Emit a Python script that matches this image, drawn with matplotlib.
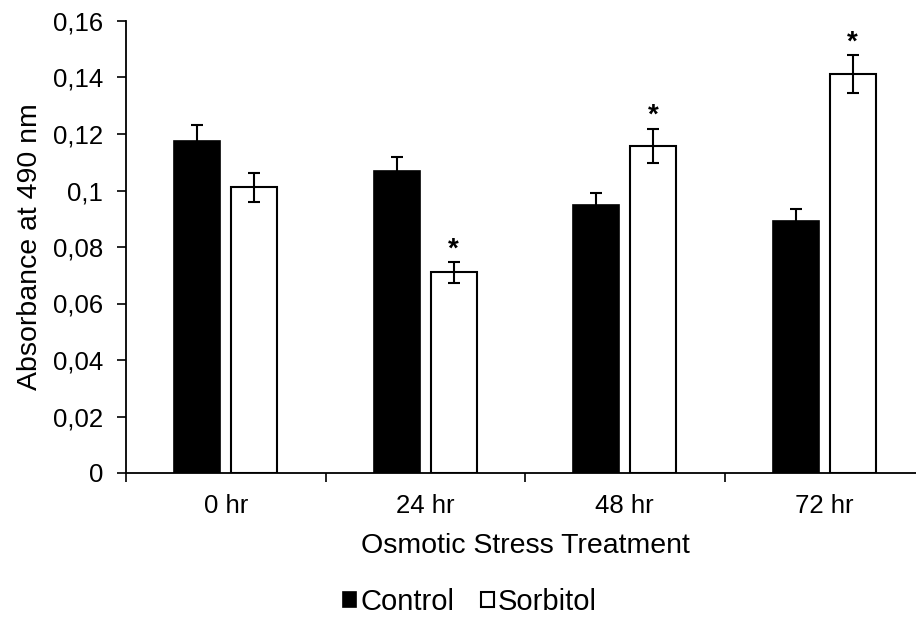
import matplotlib
matplotlib.use("Agg")
import matplotlib.pyplot as plt
import numpy as np

categories = ["0 hr", "24 hr", "48 hr", "72 hr"]
control = [0.1176, 0.1068, 0.0947, 0.0891]
control_err = [0.0057, 0.0051, 0.0044, 0.0042]
sorbitol = [0.1011, 0.0710, 0.1157, 0.1412]
sorbitol_err = [0.0051, 0.0036, 0.0061, 0.0066]
significant = [False, True, True, True]
yticks = [0, 0.02, 0.04, 0.06, 0.08, 0.10, 0.12, 0.14, 0.16]
ytick_labels = ["0", "0,02", "0,04", "0,06", "0,08", "0,1", "0,12", "0,14", "0,16"]

plt.rcParams['font.family'] = ['Liberation Sans', 'DejaVu Sans']

fig = plt.figure(figsize=(9.16, 6.26), dpi=100)
ax = fig.add_axes([126/916, 1 - 473/626, (924 - 126)/916, (473 - 21)/626])

x = np.arange(len(categories))
w = 0.23
off = 0.143
ekw = dict(elinewidth=1.5, capthick=1.5)
ax.bar(x - off, control, w, yerr=control_err, color="black", edgecolor="black",
       linewidth=1.2, capsize=4.5, error_kw=ekw, label="Control", zorder=2)
ax.bar(x + off, sorbitol, w, yerr=sorbitol_err, color="white", edgecolor="black",
       linewidth=1.5, capsize=4.5, error_kw=ekw, label="Sorbitol", zorder=2)

for i, sig in enumerate(significant):
    if sig:
        ax.annotate("*", xy=(x[i] + off, sorbitol[i] + sorbitol_err[i]),
                    xytext=(0, 0), textcoords="offset points",
                    ha="center", va="bottom", fontsize=20, fontweight="bold")

ax.set_xlim(-0.5, len(categories) - 0.5)
ax.set_ylim(0, 0.16)
ax.set_yticks(yticks)
ax.set_yticklabels(ytick_labels)
ax.set_xticks(x)
ax.set_xticklabels(categories)
ax.set_xticks(np.arange(-0.5, len(categories), 1.0), minor=True)
ax.tick_params(axis="x", which="major", length=0, pad=15, labelsize=18.5)
ax.tick_params(axis="x", which="minor", length=6.5, width=1.2, direction="out")
ax.tick_params(axis="y", which="major", length=6.5, width=1.2, direction="out",
               pad=10, labelsize=18.5)

for s in ["top", "right"]:
    ax.spines[s].set_visible(False)
for s in ["left", "bottom"]:
    ax.spines[s].set_linewidth(1.3)

ax.set_xlabel("Osmotic Stress Treatment", fontsize=20.5, labelpad=11)
ax.set_ylabel("Absorbance at 490 nm", fontsize=20.5, labelpad=7)

fig.legend(loc="center", bbox_to_anchor=(470/916, 1 - 602/626), ncol=2,
           frameon=False, fontsize=21, handlelength=0.45, handleheight=0.45,
           handletextpad=0.15, columnspacing=0.9)

fig.savefig("out.png", dpi=100)
